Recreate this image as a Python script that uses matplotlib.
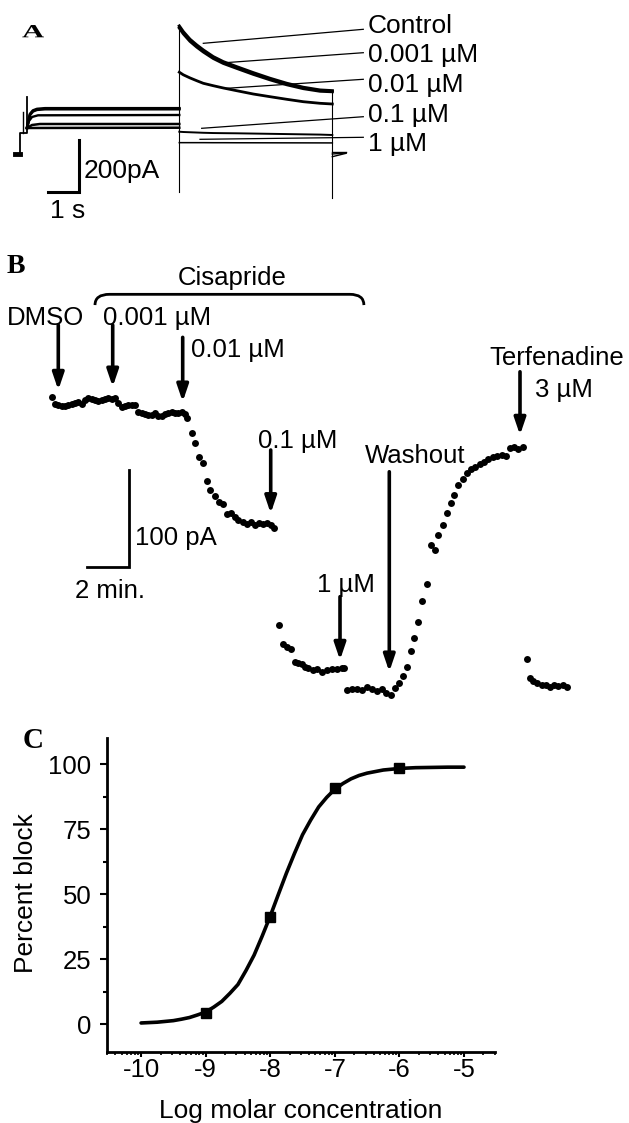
import matplotlib
matplotlib.use('Agg')
import matplotlib.pyplot as plt
import numpy as np
from matplotlib.path import Path
from matplotlib.patches import PathPatch
from matplotlib.textpath import TextPath
from matplotlib.font_manager import FontProperties
from matplotlib.transforms import Affine2D

plt.rcParams['font.family'] = ['Liberation Sans', 'DejaVu Sans']
plt.rcParams['axes.unicode_minus'] = False

# ---------------- Panel A: hERG currents (time in s, current in pA) ----------------
step_t_ctrl = [0.391, 0.440, 0.489, 0.586, 0.717, 0.977, 5.352]
step_ctrl = [65.4, 96.2, 119.2, 132.7, 138.5, 141.1, 141.1]
step_ctrl2 = [65.4, 94.0, 116.0, 129.5, 135.5, 138.0, 138.0]
step_t_001 = [0.391, 0.456, 0.554, 0.749, 5.352]
step_001 = [65.4, 92.3, 107.7, 114.2, 115.4]
step_t_01 = [0.391, 0.554, 0.814, 5.352]
step_01 = [65.4, 76.9, 80.8, 80.8]
step_t_1 = [0.391, 5.352]
step_1 = [65.4, 66.5]

tail_t = [5.352, 5.482, 5.700, 5.919, 6.134, 6.459, 6.785, 7.221, 7.762, 8.306, 8.850, 9.391, 9.935, 10.336]
tail_control = [457.7, 435.8, 406.5, 384.6, 365.4, 339.6, 320.4, 301.1, 278.1, 256.5, 237.3, 221.9, 211.5, 208.8]
tail_0001 = [450.0, 428.0, 399.0, 377.0, 358.0, 333.0, 314.0, 295.0, 272.0, 251.0, 232.0, 217.0, 207.0, 205.0]
tail_001 = [280.0, 270.0, 258.0, 247.3, 237.3, 228.0, 219.3, 208.8, 196.1, 185.8, 175.8, 166.5, 160.4, 157.7]
tail_01 = [51.0, 50.0, 49.0, 48.0, 47.0, 46.0, 45.5, 45.0, 44.0, 43.0, 42.0, 41.0, 40.0, 38.5]
tail_1 = [9.0, 9.0, 9.0, 9.0, 9.0, 8.8, 8.8, 8.6, 8.5, 8.4, 8.3, 8.2, 8.1, 8.0]

conc_labels = ['Control', '0.001 \u00b5M', '0.01 \u00b5M', '0.1 \u00b5M', '1 \u00b5M']

# ---------------- Panel B: tail current vs time (min, pA) ----------------
b_t = [0.000, 0.157, 0.314, 0.476, 0.633, 0.790, 0.952, 1.110, 1.267, 1.429, 1.586, 1.743, 1.905,
       2.062, 2.219, 2.381, 2.538, 2.695, 2.857, 3.014, 3.171, 3.333, 3.490, 3.648, 3.810, 3.967,
       4.124, 4.286, 4.443, 4.600, 4.762, 4.919, 5.076, 5.238, 5.395, 5.552, 5.714, 5.871, 6.029,
       6.190, 6.348, 6.457,
       6.667, 6.824, 7.029, 7.190, 7.381, 7.538, 7.776, 7.981, 8.143, 8.333, 8.524, 8.729, 8.886,
       9.095, 9.286, 9.476, 9.681, 9.886, 10.076, 10.238, 10.429, 10.586,
       10.810, 11.000, 11.190, 11.381, 11.586, 11.743, 11.905, 12.062, 12.219, 12.429, 12.619,
       12.857, 13.095, 13.333, 13.571, 13.810, 13.933,
       14.048, 14.286, 14.524, 14.762, 15.000, 15.238, 15.476, 15.714, 15.919, 16.143, 16.348,
       16.538, 16.714, 16.905, 17.095, 17.267, 17.457, 17.648, 17.857, 18.048, 18.252, 18.410,
       18.619, 18.810, 19.000, 19.157, 19.362, 19.571, 19.762, 19.967, 20.157, 20.395, 20.600,
       20.790, 21.000, 21.190, 21.429, 21.619, 21.824, 22.029, 22.219, 22.429,
       22.619, 22.776, 22.933, 23.124, 23.333, 23.538, 23.729, 23.919, 24.124, 24.333, 24.524]
b_current = [334.3, 326.7, 325.7, 325.0, 324.7, 325.7, 326.4, 328.1, 329.1, 326.7, 330.9, 332.6, 331.6,
             330.9, 330.2, 330.9, 331.9, 332.6, 331.6, 332.6, 327.5, 324.0, 324.7, 325.7, 325.7, 325.7,
             318.8, 317.1, 316.4, 315.4, 315.4, 317.1, 314.7, 314.7, 316.1, 317.8, 318.8, 317.1, 317.8,
             318.2, 316.4, 312.0,
             297.1, 286.1, 271.6, 265.4, 247.4, 237.8, 231.6, 225.7, 223.3, 213.0, 214.3, 210.2, 206.8,
             205.0, 202.7, 205.0, 201.6, 204.0, 202.7, 203.4, 201.6, 198.8,
             98.2, 78.6, 75.8, 73.1, 60.3, 59.2, 57.9, 55.1, 53.5, 51.7, 52.4,
             49.9, 51.7, 52.4, 52.7, 53.5, 53.5,
             31.0, 31.7, 32.4, 31.0, 33.8, 31.7, 30.3, 31.7, 28.2, 25.9, 32.8,
             37.9, 45.5, 55.1, 71.7, 85.1, 101.6, 123.4, 140.6, 181.0, 175.8, 191.3,
             201.6, 214.4, 224.7, 232.7, 243.0, 248.9, 255.1, 259.2, 261.9, 264.7, 267.1,
             269.6, 271.6, 273.0, 274.0, 273.0, 280.9, 282.6, 279.9, 282.0,
             63.1, 43.1, 40.6, 38.6, 36.2, 36.2, 34.4, 35.9, 35.2, 36.2, 34.4]

# drug additions: time (min), arrow top, arrow tip (pA)
event_t = [0.314, 2.905, 6.238, 10.429, 13.729, 16.076, 22.30]
event_top = [408.4, 408.4, 395.7, 279.2, 127.5, 256.7, 360.1]
event_tip = [341.2, 344.6, 329.1, 213.7, 62.0, 49.9, 294.7]

# ---------------- Panel C: concentration-response ----------------
log_conc = [-9, -8, -7, -6]
pct_block = [4.1, 41.3, 90.7, 98.3]
fit_x = [-10.0, -9.75, -9.5, -9.375, -9.25, -9.125, -9.0, -8.875, -8.75, -8.625, -8.5, -8.375,
         -8.25, -8.125, -8.0, -7.875, -7.75, -7.625, -7.5, -7.375, -7.25, -7.125, -7.0,
         -6.875, -6.75, -6.625, -6.5, -6.375, -6.25, -6.125, -6.0, -5.75, -5.5, -5.25, -5.0]
fit_y = [0.4, 0.7, 1.3, 1.85, 2.5, 3.5, 4.6, 6.5, 8.7, 11.8, 15.2, 20.6,
         26.5, 33.8, 41.5, 49.8, 58.0, 65.6, 72.8, 78.4, 83.5, 87.2, 90.3,
         92.5, 94.3, 95.6, 96.5, 97.1, 97.7, 98.0, 98.3, 98.6, 98.7, 98.8, 98.8]

W, H = 629, 1123
fig = plt.figure(figsize=(W / 100, H / 100), dpi=100)


def box(x0, y0, x1, y1):
    return [x0 / W, 1 - y1 / H, (x1 - x0) / W, (y1 - y0) / H]


# ---- A ----
axa = fig.add_axes(box(0, 0, W, 240))
axa.set_xlim(-15 / 30.7, (W - 15) / 30.7)
axa.set_ylim(-365.4, 557.7)
axa.axis('off')

k = 'black'
# holding potential artefacts
axa.plot([0, 0.163, 0.163, 0.391, 0.391], [-34.6, -34.6, 46.2, 46.2, 184.6], color=k, lw=1.3)
axa.plot([0, 0.163], [-34.6, -34.6], color=k, lw=3.5)
axa.plot([0.270, 0.270], [126.9, 46.2], color=k, lw=1.0)

axa.plot(step_t_ctrl, step_ctrl, color=k, lw=2.0)
axa.plot(step_t_ctrl, step_ctrl2, color=k, lw=2.0)
axa.plot(step_t_001, step_001, color=k, lw=1.7)
axa.plot(step_t_01, step_01, color=k, lw=1.8)
axa.plot(step_t_1, step_1, color=k, lw=1.8)

axa.plot([5.352, 5.352], [457.7, -179.6], color=k, lw=0.8)
axa.plot([10.336, 10.336], [208.8, -205.0], color=k, lw=0.8)

axa.plot(tail_t, tail_control, color=k, lw=2.2)
axa.plot(tail_t, tail_0001, color=k, lw=2.2)
axa.plot(tail_t, tail_001, color=k, lw=2.0)
axa.plot(tail_t, tail_01, color=k, lw=1.4)
axa.plot(tail_t, tail_1, color=k, lw=1.1)

# return to holding
axa.plot([10.336, 10.782], [-25.8, -25.8], color=k, lw=1.0)
axa.plot([10.336, 10.782], [-34.6, -30.8], color=k, lw=1.0)
axa.plot([10.336, 10.782], [-45.0, -32.0], color=k, lw=1.0)

# leader lines and labels
lead_start = [(6.134, 391.1), (6.840, 316.5), (6.896, 218.1), (6.081, 64.2), (6.026, 21.9)]
lead_end = [445.0, 355.0, 252.7, 108.8, 29.6]
label_base = [429.6, 320.4, 202.7, 89.6, -23.1]
for lab, (x0, y0), y1, yb in zip(conc_labels, lead_start, lead_end, label_base):
    axa.plot([x0, 11.345], [y0, y1], color=k, lw=0.9)
    axa.text(11.498, yb, lab, fontsize=19, va='baseline', ha='left')

# scale bar 1 s / 200 pA
axa.plot([1.085, 2.085, 2.085], [-179.6, -179.6, 19.2], color=k, lw=2.2, solid_joinstyle='miter')
axa.text(2.248, -128.1, '200pA', fontsize=19, va='baseline')
axa.text(1.140, -281.9, '1 s', fontsize=19, va='baseline')

# ---- B ----
axb = fig.add_axes(box(0, 240, W, 720))
axb.set_xlim(-51.7 / 21, (W - 51.7) / 21)
axb.set_ylim(0, 480 / 0.967)
axb.axis('off')

axb.plot(b_t, b_current, 'o', color=k, ms=5.0, mew=0)

for t, y0, y1 in zip(event_t, event_top, event_tip):
    axb.annotate('', xy=(t, y1), xytext=(t, y0),
                 arrowprops=dict(arrowstyle='-|>,head_length=0.5,head_width=0.17',
                                 lw=2.6, color=k, shrinkA=0, shrinkB=0, mutation_scale=20))

label_pos = {'DMSO': (-2.143, 408.4), '0.001 \u00b5M': (2.457, 408.4), '0.01 \u00b5M': (6.619, 375.6),
             '0.1 \u00b5M': (9.838, 281.0), '1 \u00b5M': (12.619, 132.7), 'Washout': (14.919, 265.4),
             'Terfenadine': (20.838, 367.1), '3 \u00b5M': (23.014, 334.3)}
for lab, (x, y) in label_pos.items():
    axb.text(x, y, lab, fontsize=18.5, va='baseline', ha='left')

# Cisapride bracket
verts = [(2.062, 429.1), (2.062, 440.2), (2.75, 440.2), (14.2, 440.2), (14.867, 440.2), (14.867, 429.1)]
codes = [Path.MOVETO, Path.CURVE3, Path.CURVE3, Path.LINETO, Path.CURVE3, Path.CURVE3]
axb.add_patch(PathPatch(Path(verts, codes), fill=False, lw=2.0, edgecolor=k))
axb.text(8.571, 449.8, 'Cisapride', fontsize=18.5, va='baseline', ha='center')

# scale bar 2 min / 100 pA
axb.plot([1.695, 3.695, 3.695], [158.5, 158.5, 258.5], color=k, lw=2.0, solid_joinstyle='miter')
axb.text(3.967, 181.0, '100 pA', fontsize=18.5, va='baseline')
axb.text(1.11, 125.8, '2 min.', fontsize=18.5, va='baseline')

# ---- C ----
axc = fig.add_axes(box(107.3, 738.3, 495, 1051.7))
axc.plot(fit_x, fit_y, color=k, lw=2.6, solid_capstyle='round', solid_joinstyle='round')
axc.plot(log_conc, pct_block, 's', color=k, ms=7.5)
axc.set_xlim(-10.52, -4.52)
axc.set_ylim(-10.65, 109.9)
axc.spines[['top', 'right']].set_visible(False)
axc.spines[['left', 'bottom']].set_linewidth(2)
axc.set_yticks([0, 25, 50, 75, 100])
axc.set_yticks([12.5, 37.5, 62.5, 87.5], minor=True)
axc.set_xticks([-10, -9, -8, -7, -6, -5])
axc.set_xticklabels(['-10', '-9', '-8', '-7', '-6', '-5'])
minor_x = [n + np.log10(m) for n in range(-11, -4) for m in range(2, 10)]
axc.set_xticks([v for v in minor_x if -10.53 <= v <= -4.51], minor=True)
axc.tick_params(axis='y', which='major', length=5.3, width=1.5, pad=6, labelsize=18.5)
axc.tick_params(axis='y', which='minor', length=3, width=1.5)
axc.tick_params(axis='x', which='major', length=3.6, width=1.5, pad=1, labelsize=18.5)
axc.tick_params(axis='x', which='minor', length=2, width=1.2)

fig.text(26 / W, 1 - 893.5 / H, 'Percent block', fontsize=19, rotation=90, ha='center', va='center')
fig.text(301 / W, 1 - 1118 / H, 'Log molar concentration', fontsize=19, ha='center', va='baseline')

# panel letters
bold_serif = FontProperties(family='Liberation Serif', weight='bold')
tp = TextPath((0, 0), 'A', size=18.6, prop=bold_serif)
fig.add_artist(PathPatch(tp, transform=Affine2D().scale(1.65, 1.0).translate(22, H - 37.3),
                         facecolor=k, edgecolor='none'))
fig.text(7 / W, 1 - 273.3 / H, 'B', fontsize=20, family='Liberation Serif', weight='bold', va='baseline')
fig.text(23 / W, 1 - 748 / H, 'C', fontsize=21, family='Liberation Serif', weight='bold', va='baseline')

fig.savefig('out.png', dpi=100)
